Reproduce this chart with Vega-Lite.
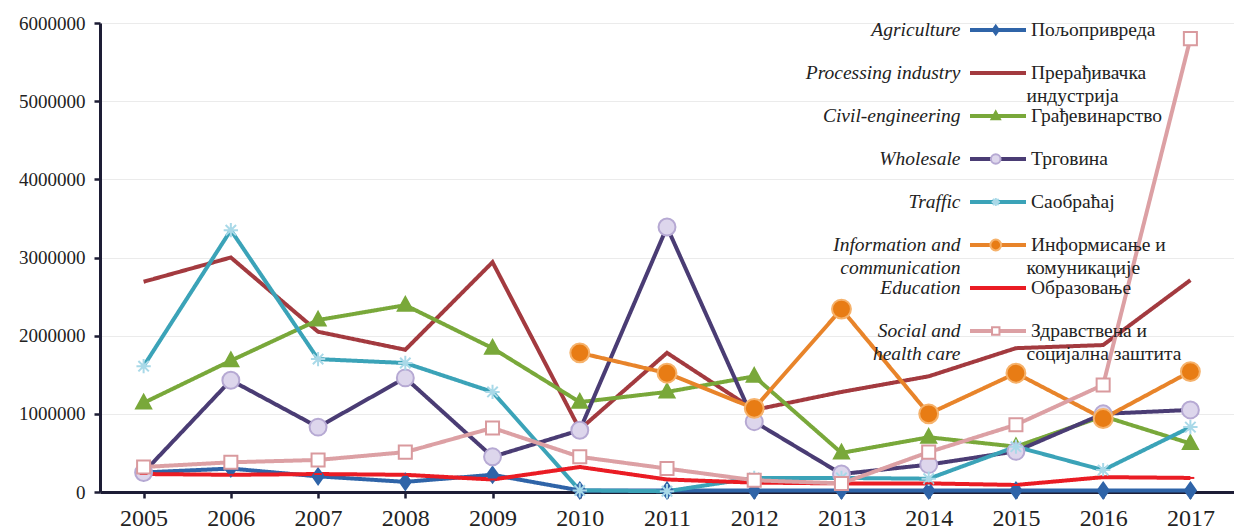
{
  "$schema": "https://vega.github.io/schema/vega-lite/v6.json",
  "width": 1134,
  "height": 469,
  "autosize": {"type": "none"},
  "padding": {"left": 100, "top": 23, "right": 0, "bottom": 40},
  "background": "white",
  "config": {
    "view": {"stroke": null},
    "axis": {
      "labelFont": "Liberation Serif",
      "labelColor": "#222",
      "domainColor": "#1d1d35",
      "domainWidth": 3,
      "tickColor": "#1d1d35",
      "tickWidth": 2.5,
      "tickSize": 6,
      "title": null
    },
    "legend": {
      "orient": "none",
      "title": null,
      "padding": 0,
      "labelFont": "Liberation Serif",
      "labelFontSize": 19.5,
      "labelColor": "#222",
      "labelLimit": 400,
      "clipHeight": 43,
      "rowPadding": 0,
      "symbolType": "stroke"
    }
  },
  "data": {
    "values": [
      {"year": "2005", "en": "Agriculture", "sr": "Пољопривреда", "value": 250000},
      {"year": "2006", "en": "Agriculture", "sr": "Пољопривреда", "value": 300000},
      {"year": "2007", "en": "Agriculture", "sr": "Пољопривреда", "value": 200000},
      {"year": "2008", "en": "Agriculture", "sr": "Пољопривреда", "value": 130000},
      {"year": "2009", "en": "Agriculture", "sr": "Пољопривреда", "value": 220000},
      {"year": "2010", "en": "Agriculture", "sr": "Пољопривреда", "value": 20000},
      {"year": "2011", "en": "Agriculture", "sr": "Пољопривреда", "value": 20000},
      {"year": "2012", "en": "Agriculture", "sr": "Пољопривреда", "value": 20000},
      {"year": "2013", "en": "Agriculture", "sr": "Пољопривреда", "value": 20000},
      {"year": "2014", "en": "Agriculture", "sr": "Пољопривреда", "value": 20000},
      {"year": "2015", "en": "Agriculture", "sr": "Пољопривреда", "value": 20000},
      {"year": "2016", "en": "Agriculture", "sr": "Пољопривреда", "value": 20000},
      {"year": "2017", "en": "Agriculture", "sr": "Пољопривреда", "value": 20000},

      {"year": "2005", "en": "Processing industry", "sr": "Прерађивачка индустрија", "value": 2690000},
      {"year": "2006", "en": "Processing industry", "sr": "Прерађивачка индустрија", "value": 3000000},
      {"year": "2007", "en": "Processing industry", "sr": "Прерађивачка индустрија", "value": 2050000},
      {"year": "2008", "en": "Processing industry", "sr": "Прерађивачка индустрија", "value": 1820000},
      {"year": "2009", "en": "Processing industry", "sr": "Прерађивачка индустрија", "value": 2940000},
      {"year": "2010", "en": "Processing industry", "sr": "Прерађивачка индустрија", "value": 800000},
      {"year": "2011", "en": "Processing industry", "sr": "Прерађивачка индустрија", "value": 1780000},
      {"year": "2012", "en": "Processing industry", "sr": "Прерађивачка индустрија", "value": 1050000},
      {"year": "2013", "en": "Processing industry", "sr": "Прерађивачка индустрија", "value": 1280000},
      {"year": "2014", "en": "Processing industry", "sr": "Прерађивачка индустрија", "value": 1480000},
      {"year": "2015", "en": "Processing industry", "sr": "Прерађивачка индустрија", "value": 1840000},
      {"year": "2016", "en": "Processing industry", "sr": "Прерађивачка индустрија", "value": 1880000},
      {"year": "2017", "en": "Processing industry", "sr": "Прерађивачка индустрија", "value": 2710000},

      {"year": "2005", "en": "Civil-engineering", "sr": "Грађевинарство", "value": 1140000},
      {"year": "2006", "en": "Civil-engineering", "sr": "Грађевинарство", "value": 1680000},
      {"year": "2007", "en": "Civil-engineering", "sr": "Грађевинарство", "value": 2200000},
      {"year": "2008", "en": "Civil-engineering", "sr": "Грађевинарство", "value": 2390000},
      {"year": "2009", "en": "Civil-engineering", "sr": "Грађевинарство", "value": 1840000},
      {"year": "2010", "en": "Civil-engineering", "sr": "Грађевинарство", "value": 1150000},
      {"year": "2011", "en": "Civil-engineering", "sr": "Грађевинарство", "value": 1280000},
      {"year": "2012", "en": "Civil-engineering", "sr": "Грађевинарство", "value": 1480000},
      {"year": "2013", "en": "Civil-engineering", "sr": "Грађевинарство", "value": 500000},
      {"year": "2014", "en": "Civil-engineering", "sr": "Грађевинарство", "value": 700000},
      {"year": "2015", "en": "Civil-engineering", "sr": "Грађевинарство", "value": 580000},
      {"year": "2016", "en": "Civil-engineering", "sr": "Грађевинарство", "value": 970000},
      {"year": "2017", "en": "Civil-engineering", "sr": "Грађевинарство", "value": 620000},

      {"year": "2005", "en": "Wholesale", "sr": "Трговина", "value": 250000},
      {"year": "2006", "en": "Wholesale", "sr": "Трговина", "value": 1430000},
      {"year": "2007", "en": "Wholesale", "sr": "Трговина", "value": 830000},
      {"year": "2008", "en": "Wholesale", "sr": "Трговина", "value": 1460000},
      {"year": "2009", "en": "Wholesale", "sr": "Трговина", "value": 450000},
      {"year": "2010", "en": "Wholesale", "sr": "Трговина", "value": 790000},
      {"year": "2011", "en": "Wholesale", "sr": "Трговина", "value": 3390000},
      {"year": "2012", "en": "Wholesale", "sr": "Трговина", "value": 900000},
      {"year": "2013", "en": "Wholesale", "sr": "Трговина", "value": 230000},
      {"year": "2014", "en": "Wholesale", "sr": "Трговина", "value": 350000},
      {"year": "2015", "en": "Wholesale", "sr": "Трговина", "value": 520000},
      {"year": "2016", "en": "Wholesale", "sr": "Трговина", "value": 1000000},
      {"year": "2017", "en": "Wholesale", "sr": "Трговина", "value": 1050000},

      {"year": "2005", "en": "Traffic", "sr": "Саобраћај", "value": 1610000},
      {"year": "2006", "en": "Traffic", "sr": "Саобраћај", "value": 3350000},
      {"year": "2007", "en": "Traffic", "sr": "Саобраћај", "value": 1700000},
      {"year": "2008", "en": "Traffic", "sr": "Саобраћај", "value": 1650000},
      {"year": "2009", "en": "Traffic", "sr": "Саобраћај", "value": 1280000},
      {"year": "2010", "en": "Traffic", "sr": "Саобраћај", "value": 20000},
      {"year": "2011", "en": "Traffic", "sr": "Саобраћај", "value": 10000},
      {"year": "2012", "en": "Traffic", "sr": "Саобраћај", "value": 180000},
      {"year": "2013", "en": "Traffic", "sr": "Саобраћај", "value": 180000},
      {"year": "2014", "en": "Traffic", "sr": "Саобраћај", "value": 170000},
      {"year": "2015", "en": "Traffic", "sr": "Саобраћај", "value": 580000},
      {"year": "2016", "en": "Traffic", "sr": "Саобраћај", "value": 280000},
      {"year": "2017", "en": "Traffic", "sr": "Саобраћај", "value": 830000},

      {"year": "2010", "en": "Information and communication", "sr": "Информисање и комуникације", "value": 1780000},
      {"year": "2011", "en": "Information and communication", "sr": "Информисање и комуникације", "value": 1520000},
      {"year": "2012", "en": "Information and communication", "sr": "Информисање и комуникације", "value": 1070000},
      {"year": "2013", "en": "Information and communication", "sr": "Информисање и комуникације", "value": 2340000},
      {"year": "2014", "en": "Information and communication", "sr": "Информисање и комуникације", "value": 1000000},
      {"year": "2015", "en": "Information and communication", "sr": "Информисање и комуникације", "value": 1520000},
      {"year": "2016", "en": "Information and communication", "sr": "Информисање и комуникације", "value": 940000},
      {"year": "2017", "en": "Information and communication", "sr": "Информисање и комуникације", "value": 1540000},

      {"year": "2005", "en": "Education", "sr": "Образовање", "value": 230000},
      {"year": "2006", "en": "Education", "sr": "Образовање", "value": 220000},
      {"year": "2007", "en": "Education", "sr": "Образовање", "value": 230000},
      {"year": "2008", "en": "Education", "sr": "Образовање", "value": 220000},
      {"year": "2009", "en": "Education", "sr": "Образовање", "value": 160000},
      {"year": "2010", "en": "Education", "sr": "Образовање", "value": 320000},
      {"year": "2011", "en": "Education", "sr": "Образовање", "value": 160000},
      {"year": "2012", "en": "Education", "sr": "Образовање", "value": 120000},
      {"year": "2013", "en": "Education", "sr": "Образовање", "value": 110000},
      {"year": "2014", "en": "Education", "sr": "Образовање", "value": 110000},
      {"year": "2015", "en": "Education", "sr": "Образовање", "value": 90000},
      {"year": "2016", "en": "Education", "sr": "Образовање", "value": 190000},
      {"year": "2017", "en": "Education", "sr": "Образовање", "value": 180000},

      {"year": "2005", "en": "Social and health care", "sr": "Здравствена и социјална заштита", "value": 320000},
      {"year": "2006", "en": "Social and health care", "sr": "Здравствена и социјална заштита", "value": 380000},
      {"year": "2007", "en": "Social and health care", "sr": "Здравствена и социјална заштита", "value": 410000},
      {"year": "2008", "en": "Social and health care", "sr": "Здравствена и социјална заштита", "value": 510000},
      {"year": "2009", "en": "Social and health care", "sr": "Здравствена и социјална заштита", "value": 820000},
      {"year": "2010", "en": "Social and health care", "sr": "Здравствена и социјална заштита", "value": 450000},
      {"year": "2011", "en": "Social and health care", "sr": "Здравствена и социјална заштита", "value": 300000},
      {"year": "2012", "en": "Social and health care", "sr": "Здравствена и социјална заштита", "value": 150000},
      {"year": "2013", "en": "Social and health care", "sr": "Здравствена и социјална заштита", "value": 110000},
      {"year": "2014", "en": "Social and health care", "sr": "Здравствена и социјална заштита", "value": 510000},
      {"year": "2015", "en": "Social and health care", "sr": "Здравствена и социјална заштита", "value": 860000},
      {"year": "2016", "en": "Social and health care", "sr": "Здравствена и социјална заштита", "value": 1370000},
      {"year": "2017", "en": "Social and health care", "sr": "Здравствена и социјална заштита", "value": 5800000}
    ]
  },
  "encoding": {
    "x": {
      "field": "year",
      "type": "ordinal",
      "scale": {"type": "point", "padding": 0.5},
      "axis": {"labelAngle": 0, "labelFontSize": 24, "labelPadding": 8, "grid": false}
    },
    "y": {
      "field": "value",
      "type": "quantitative",
      "scale": {"domain": [0, 6000000], "nice": false},
      "axis": {
        "values": [0, 1000000, 2000000, 3000000, 4000000, 5000000, 6000000],
        "format": "d",
        "labelFontSize": 19,
        "labelPadding": 9,
        "grid": true,
        "gridColor": "#ebebeb",
        "gridWidth": 1
      }
    }
  },
  "layer": [
    {
      "mark": {"type": "line"},
      "encoding": {
        "color": {
          "field": "sr",
          "type": "nominal",
          "scale": {
            "domain": ["Пољопривреда", "Прерађивачка индустрија", "Грађевинарство", "Трговина", "Саобраћај", "Информисање и комуникације", "Образовање", "Здравствена и социјална заштита"],
            "range": ["#2f64a8", "#a33a3f", "#79a83a", "#4a3c74", "#3ba3b8", "#e8842a", "#ea1c24", "#dca0a4"]
          },
          "legend": {
            "legendX": 868,
            "legendY": -14.5,
            "symbolSize": 3136,
            "symbolStrokeWidth": 4,
            "labelOffset": 3,
            "labelExpr": "datum.label == 'Прерађивачка индустрија' ? 'Прерађивачка' : datum.label == 'Информисање и комуникације' ? 'Информисање и' : datum.label == 'Здравствена и социјална заштита' ? 'Здравствена и' : datum.label"
          }
        },
        "strokeDash": {
          "field": "en",
          "type": "nominal",
          "scale": {
            "domain": ["Agriculture", "Processing industry", "Civil-engineering", "Wholesale", "Traffic", "Information and communication", "Education", "Social and health care"],
            "range": [[1, 0], [1, 0], [1, 0], [1, 0], [1, 0], [1, 0], [1, 0], [1, 0]]
          },
          "legend": {
            "legendX": 841,
            "legendY": -14.5,
            "symbolSize": 0,
            "symbolOpacity": 0,
            "symbolStrokeColor": "transparent",
            "labelAlign": "right",
            "labelOffset": 0,
            "labelFontStyle": "italic",
            "labelExpr": "datum.label == 'Information and communication' ? 'Information and' : datum.label == 'Social and health care' ? 'Social and' : datum.label"
          }
        },
        "strokeWidth": {
          "field": "sr",
          "type": "ordinal",
          "scale": {
            "domain": ["Пољопривреда", "Прерађивачка индустрија", "Грађевинарство", "Трговина", "Саобраћај", "Информисање и комуникације", "Образовање", "Здравствена и социјална заштита", "~"],
            "range": [4, 4]
          },
          "legend": {
            "legendX": 868,
            "legendY": 8.5,
            "symbolSize": 0,
            "symbolOpacity": 0,
            "symbolStrokeColor": "transparent",
            "labelOffset": 39,
            "labelExpr": "datum.label == 'Прерађивачка индустрија' ? 'индустрија' : datum.label == 'Информисање и комуникације' ? 'комуникације' : datum.label == 'Здравствена и социјална заштита' ? 'социјална заштита' : ' '"
          }
        },
        "opacity": {
          "field": "en",
          "type": "ordinal",
          "scale": {
            "domain": ["Agriculture", "Processing industry", "Civil-engineering", "Wholesale", "Traffic", "Information and communication", "Education", "Social and health care", "~"],
            "range": [1, 1]
          },
          "legend": {
            "legendX": 841,
            "legendY": 8.5,
            "symbolSize": 0,
            "symbolOpacity": 0,
            "symbolStrokeColor": "transparent",
            "labelAlign": "right",
            "labelOffset": 0,
            "labelFontStyle": "italic",
            "labelExpr": "datum.label == 'Information and communication' ? 'communication' : datum.label == 'Social and health care' ? 'health care' : ' '"
          }
        }
      }
    },
    {
      "mark": {"type": "point", "opacity": 1, "strokeWidth": 2, "size": 170},
      "encoding": {
        "shape": {
          "field": "sr",
          "type": "nominal",
          "scale": {
            "domain": ["Здравствена и социјална заштита", "Образовање", "Информисање и комуникације", "Саобраћај", "Трговина", "Грађевинарство", "Прерађивачка индустрија", "Пољопривреда"],
            "range": [
              "M-1,-1H1V1H-1Z",
              "M-0.6,0H0.6",
              "M-1.45,0A1.45,1.45 0 1,0 1.45,0A1.45,1.45 0 1,0 -1.45,0Z",
              "M-1.1,0L1.1,0M0,-1.1L0,1.1M-0.8,-0.8L0.8,0.8M0.8,-0.8L-0.8,0.8",
              "M-1.3,0A1.3,1.3 0 1,0 1.3,0A1.3,1.3 0 1,0 -1.3,0Z",
              "M0,-1.25L1.15,0.85L-1.15,0.85Z",
              "M0,0",
              "M0,-1.2L0.85,0L0,1.2L-0.85,0Z"
            ]
          },
          "legend": {
            "legendX": 886,
            "legendY": -14.5,
            "values": ["Пољопривреда", "Прерађивачка индустрија", "Грађевинарство", "Трговина", "Саобраћај", "Информисање и комуникације", "Образовање", "Здравствена и социјална заштита"],
            "symbolSize": 55,
            "symbolStrokeWidth": 2,
            "labelExpr": "' '"
          }
        },
        "fill": {
          "field": "sr",
          "type": "nominal",
          "scale": {
            "domain": ["Здравствена и социјална заштита", "Образовање", "Информисање и комуникације", "Саобраћај", "Трговина", "Грађевинарство", "Прерађивачка индустрија", "Пољопривреда"],
            "range": ["#ffffff", "#ea1c24", "#e87c14", "transparent", "#ddd6ec", "#79a83a", "#a33a3f", "#2f64a8"]
          },
          "legend": {
            "legendX": 886,
            "legendY": -14.5,
            "values": ["Пољопривреда", "Прерађивачка индустрија", "Грађевинарство", "Трговина", "Саобраћај", "Информисање и комуникације", "Образовање", "Здравствена и социјална заштита"],
            "symbolSize": 55,
            "symbolStrokeWidth": 2,
            "labelExpr": "' '"
          }
        },
        "stroke": {
          "field": "sr",
          "type": "nominal",
          "scale": {
            "domain": ["Здравствена и социјална заштита", "Образовање", "Информисање и комуникације", "Саобраћај", "Трговина", "Грађевинарство", "Прерађивачка индустрија", "Пољопривреда"],
            "range": ["#d99a9e", "#ea1c24", "#f6b26b", "#a9d9e8", "#b6a9d3", "#79a83a", "#a33a3f", "#2f64a8"]
          },
          "legend": {
            "legendX": 886,
            "legendY": -14.5,
            "values": ["Пољопривреда", "Прерађивачка индустрија", "Грађевинарство", "Трговина", "Саобраћај", "Информисање и комуникације", "Образовање", "Здравствена и социјална заштита"],
            "symbolSize": 55,
            "symbolStrokeWidth": 2,
            "labelExpr": "' '"
          }
        }
      }
    }
  ]
}
